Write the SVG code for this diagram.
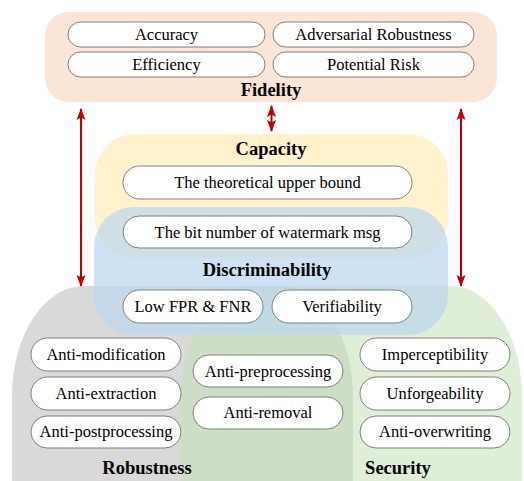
<svg xmlns="http://www.w3.org/2000/svg" width="524" height="481" viewBox="0 0 524 481">
<defs>
<style>
.pill{fill:#fff;stroke:#7f7f7f;stroke-width:1}
.t{font-family:"Liberation Serif","DejaVu Serif",serif;font-size:16.5px;fill:#000;text-anchor:middle}
.h{font-family:"Liberation Serif","DejaVu Serif",serif;font-size:18.5px;font-weight:bold;fill:#000;text-anchor:middle}
.arr{stroke:#c00000;stroke-width:2;fill:none;marker-start:url(#ah);marker-end:url(#ah)}
</style>
<marker id="ah" viewBox="0 0 12 10" refX="11" refY="5" markerWidth="12" markerHeight="10" orient="auto-start-reverse" markerUnits="userSpaceOnUse">
<path d="M0,0.5 L12,5 L0,9.5 L2.5,5 Z" fill="#c00000"/>
</marker>
</defs>
<rect width="524" height="481" fill="#fff"/>
<g id="robustness">
<rect x="12" y="286" width="341" height="300" rx="72" ry="110" fill="#d9d9d9"/>
</g>
<g id="security">
<rect x="181" y="286" width="341" height="300" rx="72" ry="110" fill="#c5e0b4" fill-opacity="0.55"/>
</g>
<g id="fidelity">
<rect x="45" y="12" width="452" height="90" rx="24" fill="#fbe5d6"/>
</g>
<g id="capacity">
<rect x="95" y="134" width="353" height="124" rx="40" fill="#fff2cc"/>
</g>
<g id="discriminability">
<rect x="94" y="207" width="354" height="128" rx="40" fill="#bdd7ee" fill-opacity="0.72"/>
</g>
<g id="fidelity-items">
<rect class="pill" x="68" y="22" width="197" height="25" rx="12.5"/>
<text class="t" x="166.5" y="40">Accuracy</text>
<rect class="pill" x="273" y="22" width="201" height="25" rx="12.5"/>
<text class="t" x="373.5" y="40">Adversarial Robustness</text>
<rect class="pill" x="68" y="52" width="197" height="25" rx="12.5"/>
<text class="t" x="166.5" y="70">Efficiency</text>
<rect class="pill" x="273" y="52" width="201" height="25" rx="12.5"/>
<text class="t" x="373.5" y="70">Potential Risk</text>
<text class="h" x="271" y="96">Fidelity</text>
</g>
<g id="capacity-items">
<text class="h" x="271" y="155">Capacity</text>
<rect class="pill" x="123" y="166" width="289" height="33" rx="16.5"/>
<text class="t" x="267.5" y="188">The theoretical upper bound</text>
<rect class="pill" x="123" y="216" width="289" height="32" rx="16"/>
<text class="t" x="267.5" y="238">The bit number of watermark msg</text>
</g>
<g id="discriminability-items">
<text class="h" x="267" y="276">Discriminability</text>
<rect class="pill" x="123" y="290" width="140" height="33" rx="16.5"/>
<text class="t" x="193" y="312">Low FPR &amp; FNR</text>
<rect class="pill" x="272" y="290" width="140" height="33" rx="16.5"/>
<text class="t" x="342" y="312">Verifiability</text>
</g>
<g id="robustness-items">
<rect class="pill" x="31" y="338" width="150" height="33" rx="16.5"/>
<text class="t" x="106" y="360">Anti-modification</text>
<rect class="pill" x="31" y="377" width="150" height="33" rx="16.5"/>
<text class="t" x="106" y="399">Anti-extraction</text>
<rect class="pill" x="31" y="416" width="150" height="32" rx="16"/>
<text class="t" x="106" y="437">Anti-postprocessing</text>
<text class="h" x="147" y="474">Robustness</text>
</g>
<g id="shared-items">
<rect class="pill" x="193" y="355" width="150" height="32" rx="16"/>
<text class="t" x="268" y="377">Anti-preprocessing</text>
<rect class="pill" x="193" y="397" width="150" height="32" rx="16"/>
<text class="t" x="268" y="418">Anti-removal</text>
</g>
<g id="security-items">
<rect class="pill" x="360" y="338" width="150" height="33" rx="16.5"/>
<text class="t" x="435" y="360">Imperceptibility</text>
<rect class="pill" x="360" y="377" width="150" height="33" rx="16.5"/>
<text class="t" x="435" y="399">Unforgeability</text>
<rect class="pill" x="360" y="416" width="150" height="32" rx="16"/>
<text class="t" x="435" y="437">Anti-overwriting</text>
<text class="h" x="398" y="474">Security</text>
</g>
<g id="connectors">
<line class="arr" x1="81" y1="109" x2="81" y2="286"/>
<line class="arr" x1="271.5" y1="106" x2="271.5" y2="131"/>
<line class="arr" x1="461" y1="109" x2="461" y2="286"/>
</g>
</svg>
